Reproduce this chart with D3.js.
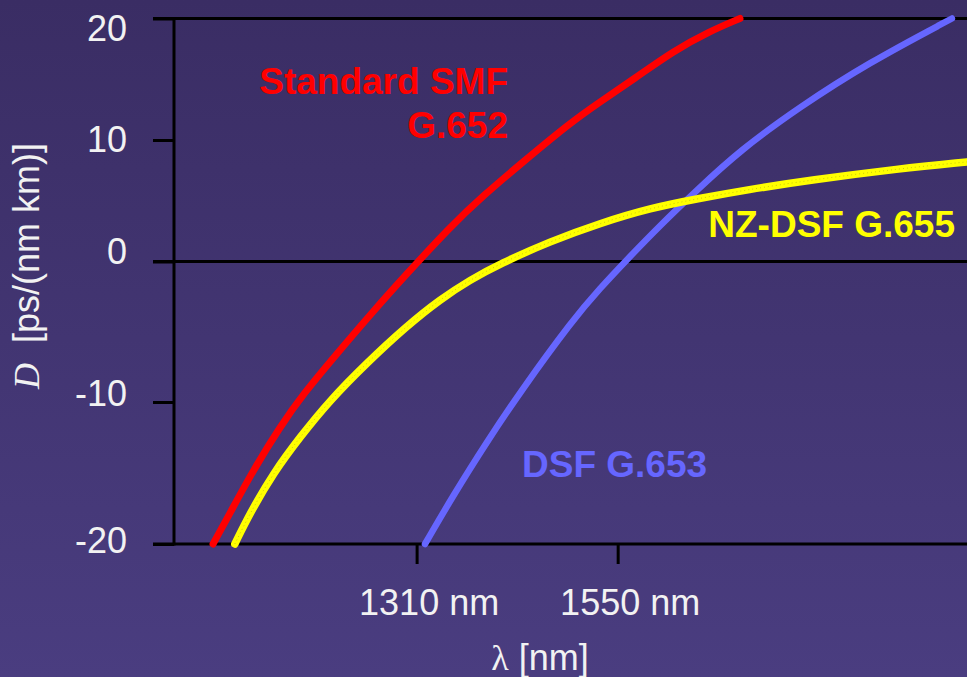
<!DOCTYPE html>
<html>
<head>
<meta charset="utf-8">
<script src="https://cdn.jsdelivr.net/npm/d3@7"></script>
<style>
html,body{margin:0;padding:0;background:#3a2d64;}
svg{display:block;}
</style>
</head>
<body>
<svg id="chart" width="967" height="677"></svg>
<script>
// ---- data (wavelength nm, dispersion ps/(nm km)) ----
const xTicks = [1310, 1550];
const xTickLabels = ["1310 nm", "1550 nm"];
const yTicks = [20, 10, 0, -10, -20];
const yTickLabels = ["20", "10", "0", "-10", "-20"];

const smfLambda = [1067, 1087, 1115, 1147, 1175, 1215, 1258, 1298, 1350, 1390, 1437, 1493, 1529, 1569, 1617, 1660, 1696];
const smfD      = [-20, -17.85, -14.8, -11.75, -9.4, -6.55, -3.55, -0.9, 2.85, 5.45, 8.2, 11.4, 13.15, 15.0, 17.35, 18.95, 20];

const nzLambda = [1093, 1111, 1139, 1171, 1207, 1250, 1298, 1338, 1374, 1410, 1469, 1529, 1589, 1648, 1704, 1780, 1887, 1967];
const nzD      = [-20, -17.85, -15.0, -12.45, -9.85, -7.25, -4.6, -2.7, -1.3, -0.15, 1.65, 3.15, 4.4, 5.2, 5.9, 6.7, 7.65, 8.2];

const dsfLambda = [1320, 1354, 1394, 1434, 1497, 1529, 1561, 1601, 1645, 1696, 1768, 1848, 1949];
const dsfD      = [-20, -16.55, -12.8, -9.25, -4.1, -1.9, 0.15, 3.0, 5.9, 9.15, 12.75, 16.3, 20];

const seriesNames = ["Standard SMF", "NZ-DSF G.655", "DSF G.653"];

// ---- layout ----
const svg = d3.select("#chart");
const W = 967, H = 677;
const FONT = "Arial, 'Liberation Sans', Helvetica, sans-serif";

const defs = svg.append("defs");
const grad = defs.append("linearGradient").attr("id", "bg").attr("x1", 0).attr("y1", 0).attr("x2", 0).attr("y2", 1);
grad.append("stop").attr("offset", "0%").attr("stop-color", "#3a2d64");
grad.append("stop").attr("offset", "100%").attr("stop-color", "#4a3d80");
svg.append("rect").attr("width", W).attr("height", H).attr("fill", "url(#bg)");

const x = d3.scaleLinear().domain([1020.4, 1967]).range([174, 967]);
const y = d3.scaleLinear().domain([-20, -10, 0, 10, 20]).range([544, 402, 261.5, 140, 18.5]);

const axisColor = "#000";
const axisW = 3;

// horizontal reference lines (20, 0, -20) spanning the plot
const hLines = [20, 0, -20];
svg.append("g").selectAll("line").data(hLines).join("line")
  .attr("x1", 153).attr("x2", W)
  .attr("y1", d => y(d)).attr("y2", d => y(d))
  .attr("stroke", axisColor).attr("stroke-width", axisW);

// y axis
const yLabelShift = {"20": 10, "10": 0, "0": -10, "-10": -8, "-20": -3};
const yAxis = d3.axisLeft(y).tickValues(yTicks).tickSize(21).tickPadding(26)
  .tickFormat((d, i) => yTickLabels[i]);
const gy = svg.append("g").attr("transform", "translate(174,0)").call(yAxis);
gy.select(".domain").remove();
gy.selectAll(".tick line").attr("stroke", axisColor).attr("stroke-width", axisW);
gy.selectAll(".tick text")
  .attr("fill", "#f2f2f2").attr("font-family", FONT).attr("font-size", 36)
  .attr("dy", "0.32em")
  .attr("transform", d => `translate(0,${yLabelShift[String(d)]})`);
svg.append("line").attr("x1", 174).attr("x2", 174).attr("y1", y(20) - 1.5).attr("y2", y(-20) + 1.5)
  .attr("stroke", axisColor).attr("stroke-width", axisW);

// x axis
const xAxis = d3.axisBottom(x).tickValues(xTicks).tickSize(20).tickPadding(25)
  .tickFormat((d, i) => xTickLabels[i]);
const gx = svg.append("g").attr("transform", `translate(0,${y(-20)})`).call(xAxis);
gx.select(".domain").remove();
gx.selectAll(".tick line").attr("stroke", axisColor).attr("stroke-width", axisW);
gx.selectAll(".tick text")
  .attr("fill", "#f2f2f2").attr("font-family", FONT).attr("font-size", 36)
  .attr("dx", 12);

// axis titles
const xt = svg.append("text").attr("x", 540).attr("y", 670).attr("text-anchor", "middle")
  .attr("fill", "#f2f2f2").attr("font-size", 36).attr("font-family", FONT);
xt.append("tspan").attr("font-family", "'Liberation Serif', 'Times New Roman', serif").text("λ");
xt.append("tspan").text(" [nm]");

const yt = svg.append("text").attr("transform", "translate(39,266) rotate(-90)")
  .attr("text-anchor", "middle").attr("fill", "#f2f2f2").attr("font-size", 36).attr("font-family", FONT);
yt.append("tspan").attr("font-family", "'Liberation Serif', 'Times New Roman', serif").attr("font-style", "italic").text("D");
yt.append("tspan").text("\u00a0 [ps/(nm km)]");

// curves
const line = d3.line().x(d => x(d[0])).y(d => y(d[1])).curve(d3.curveBasis);
const zip = (a, b) => a.map((v, i) => [v, b[i]]);

svg.append("path").datum(zip(dsfLambda, dsfD)).attr("d", line)
  .attr("fill", "none").attr("stroke", "#6666ff").attr("stroke-width", 6.5).attr("stroke-linecap", "round");
svg.append("path").datum(zip(smfLambda, smfD)).attr("d", line)
  .attr("fill", "none").attr("stroke", "#ff0000").attr("stroke-width", 7).attr("stroke-linecap", "round");
svg.append("path").datum(zip(nzLambda, nzD)).attr("d", line)
  .attr("fill", "none").attr("stroke", "#ffff00").attr("stroke-width", 7.5).attr("stroke-linecap", "round");
svg.append("path").datum(zip(nzLambda, nzD)).attr("d", line)
  .attr("fill", "none").attr("stroke", "#8c8a1a").attr("stroke-width", 1).attr("stroke-dasharray", "1 3")
  .attr("opacity", 0.45);

// series labels
const lab = (txt, xx, yy, col, anchor) => svg.append("text").attr("x", xx).attr("y", yy)
  .attr("text-anchor", anchor).attr("fill", col).attr("font-family", FONT)
  .attr("font-weight", "bold").attr("font-size", 37).text(txt);
lab(seriesNames[0], 508, 94, "#ff0000", "end");
lab("G.652", 508, 138, "#ff0000", "end");
lab(seriesNames[1], 955, 237, "#ffff00", "end");
lab(seriesNames[2], 522, 477, "#6666ff", "start");
</script>
</body>
</html>
